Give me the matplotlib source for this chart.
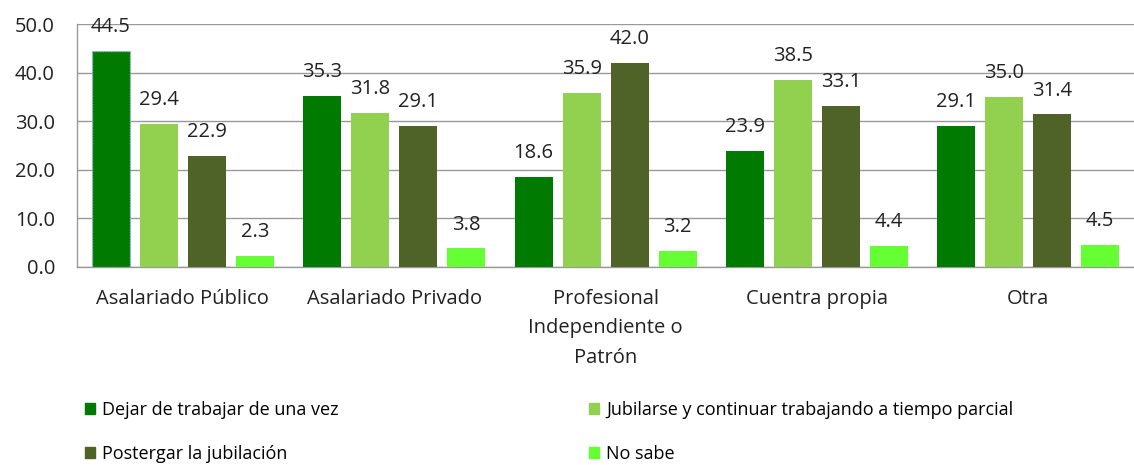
import matplotlib.pyplot as plt
import numpy as np
from matplotlib.patches import Patch

categorias = ["Asalariado Público", "Asalariado Privado",
              "Profesional\nIndependiente o\nPatrón", "Cuentra propia", "Otra"]
series = ["Dejar de trabajar de una vez",
          "Jubilarse y continuar trabajando a tiempo parcial",
          "Postergar la jubilación", "No sabe"]
dejar = [44.5, 35.3, 18.6, 23.9, 29.1]
jubilarse = [29.4, 31.8, 35.9, 38.5, 35.0]
postergar = [22.9, 29.1, 42.0, 33.1, 31.4]
no_sabe = [2.3, 3.8, 3.2, 4.4, 4.5]
colores = ["#007A00", "#92D050", "#4F6228", "#66FF33"]

plt.rcParams['font.family'] = ['Open Sans', 'DejaVu Sans']

fig = plt.figure(figsize=(11.34, 4.65), dpi=100)
ax = fig.add_axes([0.068, 0.426, 0.932, 0.522])

x = np.arange(len(categorias))
paso = 0.227
ancho = 0.18
datos = [dejar, jubilarse, postergar, no_sabe]
for i, vals in enumerate(datos):
    pos = x + (i - 1.5) * paso
    barras = ax.bar(pos, vals, width=ancho, color=colores[i], zorder=3)
    for b, v in zip(barras, vals):
        ax.annotate(f"{v:.1f}", (b.get_x() + b.get_width() / 2, v),
                    xytext=(0, 10), textcoords="offset points",
                    ha="center", va="bottom", fontsize=14.5, color="#222222")

# primera barra seleccionada con borde punteado
ax.patches[0].set_edgecolor("#9DB8E0")
ax.patches[0].set_linestyle((0, (1, 1)))
ax.patches[0].set_linewidth(1.0)

ax.set_xlim(-0.5, len(categorias) - 0.5)
ax.set_ylim(0, 50)
ax.set_yticks(np.arange(0, 51, 10))
ax.set_yticklabels([f"{t:.1f}" for t in np.arange(0, 51, 10)], fontsize=14.5, color="#222222")
ax.set_xticks(x)
ax.set_xticklabels(categorias, fontsize=14.5, color="#222222", linespacing=1.62)
ax.tick_params(axis="both", length=0)
ax.tick_params(axis="y", pad=16)
ax.tick_params(axis="x", pad=16)
ax.yaxis.grid(True, color="#999999", linewidth=1, zorder=0)
for s in ["top", "right"]:
    ax.spines[s].set_visible(False)
for s in ["left", "bottom"]:
    ax.spines[s].set_color("#999999")
    ax.spines[s].set_linewidth(1)

orden = [0, 2, 1, 3]
handles = [Patch(color=colores[i]) for i in orden]
labels = [series[i] for i in orden]
fig.legend(handles, labels, ncol=2, loc="upper left", bbox_to_anchor=(0.067, 0.157),
           frameon=False, fontsize=13, handlelength=0.55, handleheight=0.55,
           handletextpad=0.4, labelspacing=1.45, columnspacing=13.85, borderpad=0)

fig.savefig("out.png", dpi=100)
